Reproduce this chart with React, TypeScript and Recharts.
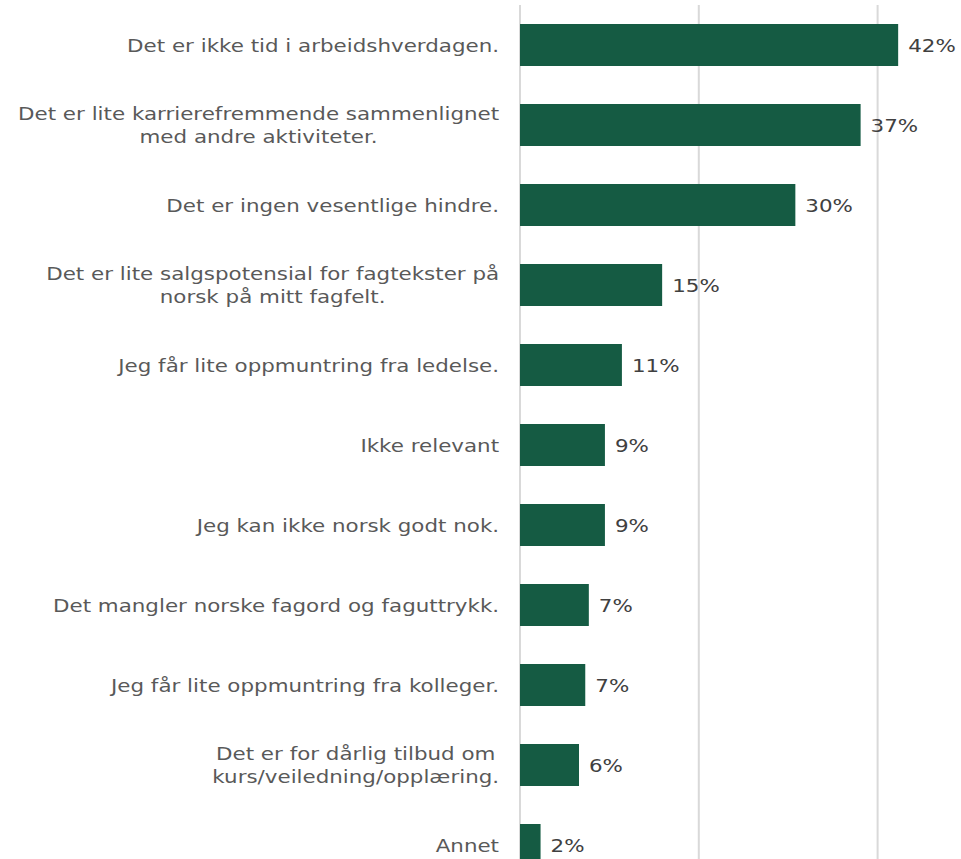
import React from 'react';
import { BarChart, Bar, XAxis, YAxis, CartesianGrid, LabelList } from 'recharts';

const categories = [
  'Det er ikke tid i arbeidshverdagen.',
  'Det er lite karrierefremmende sammenlignet\nmed andre aktiviteter.',
  'Det er ingen vesentlige hindre.',
  'Det er lite salgspotensial for fagtekster på\nnorsk på mitt fagfelt.',
  'Jeg får lite oppmuntring fra ledelse.',
  'Ikke relevant',
  'Jeg kan ikke norsk godt nok.',
  'Det mangler norske fagord og faguttrykk.',
  'Jeg får lite oppmuntring fra kolleger.',
  'Det er for dårlig tilbud om\nkurs/veiledning/opplæring.',
  'Annet',
];

const values = [42.3, 38.1, 30.8, 15.9, 11.4, 9.5, 9.5, 7.7, 7.3, 6.6, 2.3];

const valueLabels = ['42%', '37%', '30%', '15%', '11%', '9%', '9%', '7%', '7%', '6%', '2%'];

const xTicks = [0, 20, 40];

const data = categories.map((name, i) => ({ name, value: values[i], label: valueLabels[i] }));

const FONT = "'DejaVu Sans', Verdana, sans-serif";
const FONT_SIZE = 18.3;
const STRETCH = 1.17;
const LINE_H = 23.5;
const BASE_SHIFT = 6.6;

let ctx: CanvasRenderingContext2D | null = null;
function measure(s: string): number {
  if (!ctx) ctx = document.createElement('canvas').getContext('2d');
  if (!ctx) return s.length * 10;
  ctx.font = `${FONT_SIZE}px 'DejaVu Sans'`;
  return ctx.measureText(s).width * STRETCH;
}

const CategoryTick = (props: any) => {
  const { x, y, payload } = props;
  const lines = String(payload.value).split('\n');
  const blockW = Math.max(...lines.map(measure));
  const cx = x - blockW / 2;
  const first = y - ((lines.length - 1) * LINE_H) / 2 + BASE_SHIFT;
  return (
    <g transform={`translate(${cx},0) scale(${STRETCH},1)`}>
      {lines.map((l, i) => (
        <text
          key={i}
          x={0}
          y={first + i * LINE_H}
          textAnchor="middle"
          fill="#595959"
          fontFamily={FONT}
          fontSize={FONT_SIZE}
        >
          {l}
        </text>
      ))}
    </g>
  );
};

const ValueLabel = (props: any) => {
  const { x, y, width, height, value } = props;
  return (
    <g transform={`translate(${x + width + 10},0) scale(${STRETCH},1)`}>
      <text x={0} y={y + height / 2 + BASE_SHIFT} textAnchor="start" fill="#404040" fontFamily={FONT} fontSize={FONT_SIZE}>
        {value}
      </text>
    </g>
  );
};

export default function App() {
  return (
    <div style={{ position: 'fixed', left: 0, top: 0, width: 961, height: 859, overflow: 'hidden', background: '#fff' }}>
      <BarChart
        width={975}
        height={890}
        data={data}
        layout="vertical"
        margin={{ top: 5, right: 8, bottom: 5, left: 0 }}
      >
        <CartesianGrid horizontal={false} vertical={true} stroke="#d9d9d9" strokeWidth={2} />
        <XAxis
          type="number"
          domain={[0, 50]}
          ticks={xTicks}
          height={0}
          tickFormatter={() => ''}
          axisLine={false}
          tickLine={false}
        />
        <YAxis
          type="category"
          dataKey="name"
          width={520}
          axisLine={false}
          tickLine={false}
          tickSize={0}
          tickMargin={21}
          interval={0}
          tick={<CategoryTick />}
        />
        <Bar dataKey="value" fill="#155B43" barSize={42} isAnimationActive={false}>
          <LabelList dataKey="label" content={<ValueLabel />} />
        </Bar>
      </BarChart>
    </div>
  );
}
